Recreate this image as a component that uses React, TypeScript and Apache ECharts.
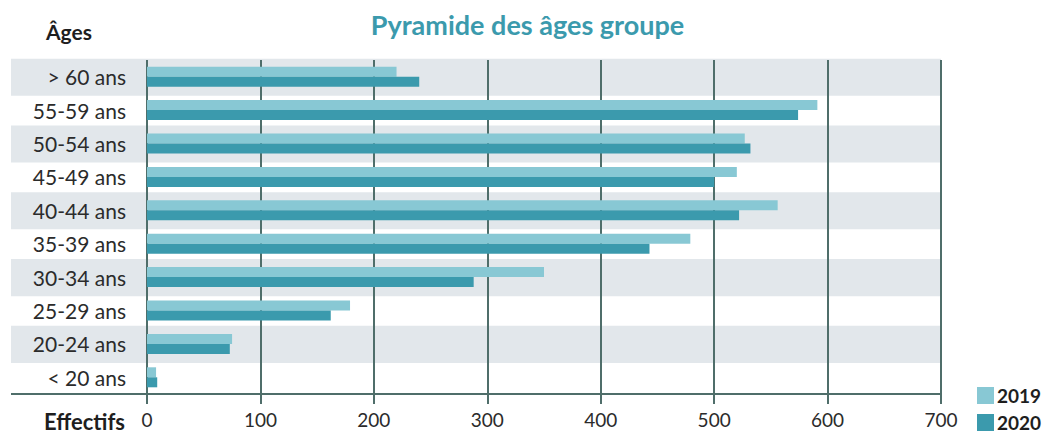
import React, { useEffect, useRef } from "react";
import * as echarts from "echarts";

const categories = ["> 60 ans", "55-59 ans", "50-54 ans", "45-49 ans", "40-44 ans", "35-39 ans", "30-34 ans", "25-29 ans", "20-24 ans", "< 20 ans"];
const values2019 = [220, 591, 527, 520, 556, 479, 350, 179, 75, 8];
const values2020 = [240, 574, 532, 500, 522, 443, 288, 162, 73, 9];
const shadedRows = [0, 2, 4, 6, 8];
const xTicks = [0, 100, 200, 300, 400, 500, 600, 700];

const FONT = "Lato, 'Open Sans', sans-serif";
const GRID_COLOR = "#4f6e6a";
const LIGHT = "#88c8d4";
const DARK = "#3b9aad";

export default function App() {
  const ref = useRef<HTMLDivElement>(null);
  useEffect(() => {
    if (!ref.current) return;
    const chart = echarts.init(ref.current, null, { renderer: "svg" });
    const xMax = xTicks[xTicks.length - 1];
    chart.setOption({
      animation: false,
      backgroundColor: "#ffffff",
      textStyle: { fontFamily: FONT },
      title: {
        text: "Pyramide des âges groupe",
        left: "center",
        top: 6,
        textStyle: { fontFamily: FONT, fontSize: 27, fontWeight: "bold", color: "#3b9aad" },
      },
      legend: {
        data: ["2019", "2020"],
        orient: "vertical",
        left: 958,
        top: 386,
        height: 60,
        padding: [0, 6, 0, 19],
        backgroundColor: "#ffffff",
        itemWidth: 17,
        itemHeight: 17,
        itemGap: 8,
        icon: "rect",
        textStyle: { fontFamily: FONT, fontSize: 19, fontWeight: "bold", color: "#1e1e1e", lineHeight: 19, padding: [0, 0, 0, -2] },
      },
      grid: { left: 147, right: 114, top: 60, bottom: 40, containLabel: false },
      xAxis: {
        type: "value",
        min: 0,
        max: xMax,
        interval: 100,
        axisLine: { show: true, lineStyle: { color: GRID_COLOR, width: 2 } },
        axisTick: { show: true, length: 10, lineStyle: { color: GRID_COLOR, width: 2 } },
        splitLine: { show: true, showMinLine: true, showMaxLine: true, lineStyle: { color: GRID_COLOR, width: 2 } },
        axisLabel: { fontFamily: FONT, fontSize: 19, color: "#2b2b2b", margin: 16 },
      },
      yAxis: {
        type: "category",
        inverse: true,
        data: categories,
        axisLine: { show: false },
        axisTick: { show: false },
        axisLabel: { fontFamily: FONT, fontSize: 21, color: "#2b2b2b", margin: 21 },
      },
      graphic: [
        {
          type: "text",
          left: 46,
          top: 21,
          style: { text: "Âges", fontFamily: FONT, fontSize: 21, fontWeight: "bold", fill: "#1e1e1e" },
        },
        {
          type: "text",
          left: 44,
          top: 410,
          style: { text: "Effectifs", fontFamily: FONT, fontSize: 22, fontWeight: "bold", fill: "#1e1e1e" },
        },
      ],
      series: [
        {
          type: "custom",
          name: "bands",
          z: -1,
          silent: true,
          clip: false,
          encode: { x: 0, y: 1 },
          data: shadedRows.map((r) => [0, r]),
          renderItem: (params: any, api: any) => {
            const idx = api.value(1);
            const c = api.coord([0, idx]);
            const end = api.coord([xMax, idx]);
            const band = api.size([0, 1])[1];
            const h = band * 1.11;
            const left = 11;
            return {
              type: "rect",
              shape: { x: left, y: c[1] - h / 2 + 0.5, width: end[0] - left, height: h },
              style: { fill: "#e2e7eb" },
            };
          },
        },
        {
          type: "custom",
          name: "baseline",
          z: 1,
          silent: true,
          clip: false,
          encode: { x: 0, y: 1 },
          data: [[0, categories.length - 1]],
          renderItem: (params: any, api: any) => {
            const c = api.coord([0, categories.length - 1]);
            const band = api.size([0, 1])[1];
            const y = c[1] + band / 2;
            return {
              type: "line",
              shape: { x1: 11, y1: y, x2: c[0], y2: y },
              style: { stroke: GRID_COLOR, lineWidth: 2 },
            };
          },
        },
        {
          type: "bar",
          name: "2019",
          data: values2019,
          barWidth: 10,
          barGap: "0%",
          itemStyle: { color: LIGHT },
        },
        {
          type: "bar",
          name: "2020",
          data: values2020,
          barWidth: 10,
          barGap: "0%",
          itemStyle: { color: DARK },
        },
      ],
    });
    return () => chart.dispose();
  }, []);
  return <div ref={ref} style={{ position: "fixed", left: 0, top: 0, width: 1055, height: 434 }} />;
}
